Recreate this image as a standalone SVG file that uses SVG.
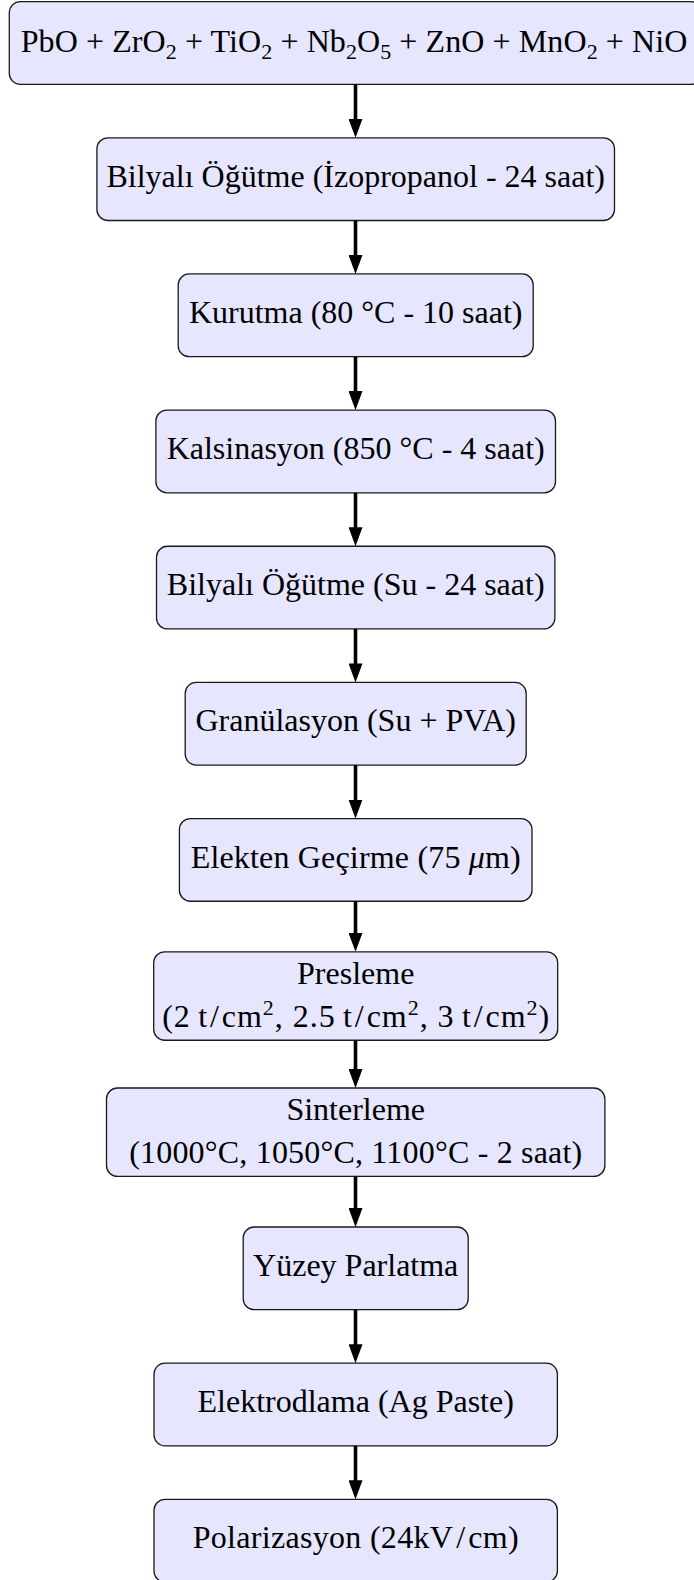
<svg xmlns="http://www.w3.org/2000/svg" width="694" height="1580" viewBox="0 0 694 1580">
  <style>
    .box { fill: #E6E6FF; stroke: #1a1a1a; stroke-width: 1.3; }
    .lbl { font-family: "Liberation Serif", "Times New Roman", serif; font-size: 32px; fill: #000; text-anchor: middle; }
    .lbl-start { font-family: "Liberation Serif", "Times New Roman", serif; font-size: 32px; fill: #000; }
    .sub { font-size: 22px; }
    .edge { stroke: #000; stroke-width: 3.6; fill: none; marker-end: url(#head); }
  </style>
  <defs>
    <marker id="head" markerUnits="userSpaceOnUse" markerWidth="19" markerHeight="14" refX="9" refY="7" orient="auto">
      <path d="M0,0 L19,7 L0,14 Z" fill="#000"/>
    </marker>
  </defs>

  <rect width="694" height="1580" fill="#fff"/>

  <!-- process steps -->
  <g id="raw-materials">
    <rect class="box" x="9.3" y="1.65" width="692.8" height="82.7" rx="11"/>
    <text class="lbl-start" x="20.7" y="51.7" textLength="666.6" lengthAdjust="spacing">PbO + ZrO<tspan class="sub" dy="7">2</tspan><tspan dy="-7"> + TiO</tspan><tspan class="sub" dy="7">2</tspan><tspan dy="-7"> + Nb</tspan><tspan class="sub" dy="7">2</tspan><tspan dy="-7">O</tspan><tspan class="sub" dy="7">5</tspan><tspan dy="-7"> + ZnO + MnO</tspan><tspan class="sub" dy="7">2</tspan><tspan dy="-7"> + NiO</tspan></text>
  </g>
  <g id="ball-milling-ipa">
    <rect class="box" x="96.9" y="137.8" width="517.6" height="82.7" rx="11"/>
    <text class="lbl" x="355.7" y="186.75">Bilyalı Öğütme (İzopropanol - 24 saat)</text>
  </g>
  <g id="drying">
    <rect class="box" x="178.2" y="273.95" width="355" height="82.7" rx="11"/>
    <text class="lbl" x="355.7" y="322.9">Kurutma (80 °C - 10 saat)</text>
  </g>
  <g id="calcination">
    <rect class="box" x="155.9" y="410.1" width="399.6" height="82.7" rx="11"/>
    <text class="lbl" x="355.7" y="459.05">Kalsinasyon (850 °C - 4 saat)</text>
  </g>
  <g id="ball-milling-water">
    <rect class="box" x="156.5" y="546.25" width="398.4" height="82.7" rx="11"/>
    <text class="lbl" x="355.7" y="595.2">Bilyalı Öğütme (Su - 24 saat)</text>
  </g>
  <g id="granulation">
    <rect class="box" x="185.2" y="682.4" width="341" height="82.7" rx="11"/>
    <text class="lbl" x="355.7" y="731.35">Granülasyon (Su + PVA)</text>
  </g>
  <g id="sieving">
    <rect class="box" x="179.4" y="818.55" width="352.6" height="82.7" rx="11"/>
    <text class="lbl" x="355.7" y="867.5" textLength="330" lengthAdjust="spacing">Elekten Geçirme (75 <tspan font-style="italic">μ</tspan>m)</text>
  </g>
  <g id="pressing">
    <rect class="box" x="153.7" y="951.85" width="404" height="88.4" rx="11"/>
    <text class="lbl" x="355.7" y="983.85">Presleme</text>
    <text class="lbl" x="355.7" y="1027.15" textLength="387" lengthAdjust="spacing">(2&#8201;t<tspan dx="2">/</tspan><tspan dx="2">cm</tspan><tspan class="sub" dy="-12">2</tspan><tspan dy="12">, 2.5&#8201;t</tspan><tspan dx="2">/</tspan><tspan dx="2">cm</tspan><tspan class="sub" dy="-12">2</tspan><tspan dy="12">, 3&#8201;t</tspan><tspan dx="2">/</tspan><tspan dx="2">cm</tspan><tspan class="sub" dy="-12">2</tspan><tspan dy="12">)</tspan></text>
  </g>
  <g id="sintering">
    <rect class="box" x="106.5" y="1088" width="498.4" height="88.4" rx="11"/>
    <text class="lbl" x="355.7" y="1120">Sinterleme</text>
    <text class="lbl" x="355.7" y="1163.3" textLength="453" lengthAdjust="spacing">(1000°C, 1050°C, 1100°C - 2 saat)</text>
  </g>
  <g id="polishing">
    <rect class="box" x="243.2" y="1227" width="225" height="82.7" rx="11"/>
    <text class="lbl" x="355.7" y="1275.95">Yüzey Parlatma</text>
  </g>
  <g id="electroding">
    <rect class="box" x="154" y="1363.15" width="403.4" height="82.7" rx="11"/>
    <text class="lbl" x="355.7" y="1412.1">Elektrodlama (Ag Paste)</text>
  </g>
  <g id="poling">
    <rect class="box" x="154" y="1499.3" width="403.4" height="82.7" rx="11"/>
    <text class="lbl" x="355.7" y="1548.25" textLength="326" lengthAdjust="spacing">Polarizasyon (24kV<tspan dx="3">/</tspan><tspan dx="3">cm)</tspan></text>
  </g>

  <!-- connectors -->
  <g id="connectors">
    <line class="edge" x1="355.5" y1="84.35" x2="355.5" y2="127.8"/>
    <line class="edge" x1="355.5" y1="220.5" x2="355.5" y2="263.95"/>
    <line class="edge" x1="355.5" y1="356.65" x2="355.5" y2="400.1"/>
    <line class="edge" x1="355.5" y1="492.8" x2="355.5" y2="536.25"/>
    <line class="edge" x1="355.5" y1="628.95" x2="355.5" y2="672.4"/>
    <line class="edge" x1="355.5" y1="765.1" x2="355.5" y2="808.55"/>
    <line class="edge" x1="355.5" y1="901.25" x2="355.5" y2="941.85"/>
    <line class="edge" x1="355.5" y1="1040.25" x2="355.5" y2="1078"/>
    <line class="edge" x1="355.5" y1="1176.4" x2="355.5" y2="1217"/>
    <line class="edge" x1="355.5" y1="1309.7" x2="355.5" y2="1353.15"/>
    <line class="edge" x1="355.5" y1="1445.85" x2="355.5" y2="1489.3"/>
  </g>
</svg>
